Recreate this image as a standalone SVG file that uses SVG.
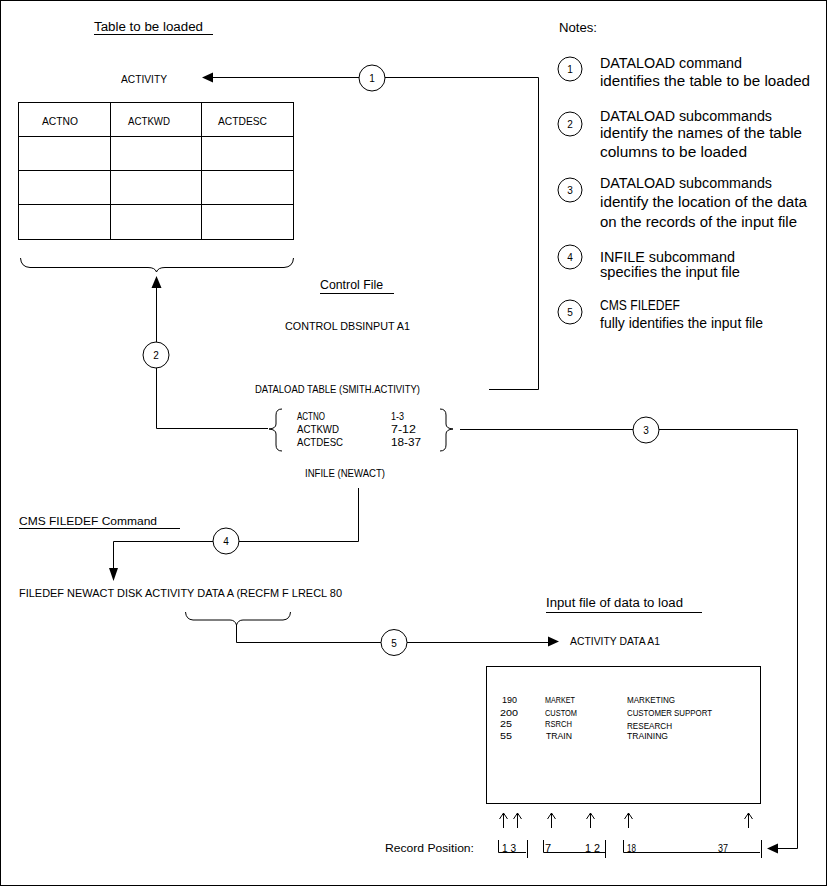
<svg xmlns="http://www.w3.org/2000/svg" width="827" height="886" viewBox="0 0 827 886">
<defs>
<style>
text{font-family:"Liberation Sans",Arial,sans-serif;fill:#000}
.n{font-size:14px}
.m{font-size:11px}
.s{font-size:9.5px}
.c{font-size:10px;text-anchor:middle}
.ln{fill:none;stroke:#000;stroke-width:1}
.cir{fill:#fff;stroke:#000;stroke-width:1}
.ah{fill:#000;stroke:none}
</style>
</defs>
<rect x="0.5" y="0.5" width="826" height="885" fill="#fff" stroke="#000"/>

<g id="connectors">
<!-- 1 -->
<path class="ln" d="M489,389.5 H538.5 V77.5 H213"/>
<polygon class="ah" points="202,77.5 213,72.5 213,82.5"/>
<!-- 2 -->
<path class="ln" d="M268,428.5 H156.5 V287"/>
<polygon class="ah" points="156.5,276 151.5,288 161.5,288"/>
<!-- 3 -->
<path class="ln" d="M460,429.5 H797.5 V848.5 H778"/>
<polygon class="ah" points="767,848.5 778,843.5 778,853.5"/>
<!-- 4 -->
<path class="ln" d="M358.5,488 V541.5 H113.5 V569"/>
<polygon class="ah" points="113.5,581 109,568 118,568"/>
<!-- 5 -->
<path class="ln" d="M236.5,625 V642.5 H548"/>
<polygon class="ah" points="559,641.5 548,636.5 548,646.5"/>
</g>

<g id="title-table">
<text x="94" y="31" font-size="12" textLength="109" lengthAdjust="spacingAndGlyphs">Table to be loaded</text>
<line class="ln" x1="94" y1="34.5" x2="213" y2="34.5"/>
</g>

<g id="table-activity">
<text class="m" x="121" y="83" textLength="46" lengthAdjust="spacingAndGlyphs">ACTIVITY</text>
<rect class="ln" x="18.5" y="102.5" width="275" height="137"/>
<path class="ln" d="M110.5,102.5 V239.5 M201.5,102.5 V239.5 M18.5,136.5 H293.5 M18.5,170.5 H293.5 M18.5,204.5 H293.5"/>
<text class="m" x="42" y="125" textLength="36" lengthAdjust="spacingAndGlyphs">ACTNO</text>
<text class="m" x="128" y="125" textLength="42" lengthAdjust="spacingAndGlyphs">ACTKWD</text>
<text class="m" x="218" y="125" textLength="49" lengthAdjust="spacingAndGlyphs">ACTDESC</text>
<path class="ln" d="M20.5,258 Q21,267 30,267.5 H148 Q155,267.5 156.5,272 Q158,267.5 165,267.5 H284 Q293,267 293.5,258"/>
</g>

<g id="control-file">
<text x="320" y="289" font-size="12" textLength="63" lengthAdjust="spacingAndGlyphs">Control File</text>
<line class="ln" x1="320" y1="293.5" x2="394" y2="293.5"/>
<text class="m" x="285" y="330" textLength="125" lengthAdjust="spacingAndGlyphs">CONTROL DBSINPUT A1</text>
<text class="m" x="255" y="393" textLength="165" lengthAdjust="spacingAndGlyphs">DATALOAD TABLE (SMITH.ACTIVITY)</text>
<path class="ln" d="M282,409 Q276,409 276,415 V424 Q276,428.5 269,429 Q276,429.5 276,434 V445 Q276,451 282,451"/>
<text class="m" x="297" y="420" textLength="28" lengthAdjust="spacingAndGlyphs">ACTNO</text>
<text class="m" x="297" y="433" textLength="42" lengthAdjust="spacingAndGlyphs">ACTKWD</text>
<text class="m" x="297" y="446" textLength="46" lengthAdjust="spacingAndGlyphs">ACTDESC</text>
<text class="m" x="391" y="420" textLength="13" lengthAdjust="spacingAndGlyphs">1-3</text>
<text class="m" x="391" y="433" textLength="25" lengthAdjust="spacingAndGlyphs">7-12</text>
<text class="m" x="391" y="446" textLength="30" lengthAdjust="spacingAndGlyphs">18-37</text>
<path class="ln" d="M440,409 Q446,409 446,415 V424 Q446,428.5 453,429 Q446,429.5 446,434 V445 Q446,451 440,451"/>
<text class="m" x="305" y="477" textLength="80" lengthAdjust="spacingAndGlyphs">INFILE (NEWACT)</text>
</g>

<g id="filedef">
<text class="m" x="19" y="525" textLength="138" lengthAdjust="spacingAndGlyphs">CMS FILEDEF Command</text>
<line class="ln" x1="19" y1="528.5" x2="180" y2="528.5"/>
<text class="m" x="19" y="597" textLength="323" lengthAdjust="spacingAndGlyphs">FILEDEF NEWACT DISK ACTIVITY DATA A (RECFM F LRECL 80</text>
<path class="ln" d="M185.5,612 Q186,619.5 193,620 H230 Q235,620 236.5,625 Q238,620 243,620 H283 Q290,619.5 290.5,612"/>
</g>

<g id="input-file">
<text x="546" y="607" font-size="12" textLength="137" lengthAdjust="spacingAndGlyphs">Input file of data to load</text>
<line class="ln" x1="546" y1="612.5" x2="702" y2="612.5"/>
<text class="m" x="570" y="645" textLength="90" lengthAdjust="spacingAndGlyphs">ACTIVITY DATA A1</text>
<rect class="ln" x="486.5" y="666.5" width="274" height="137"/>
<text class="s" x="502" y="703" textLength="15" lengthAdjust="spacingAndGlyphs">190</text>
<text class="s" x="545" y="703" textLength="30" lengthAdjust="spacingAndGlyphs">MARKET</text>
<text class="s" x="627" y="703" textLength="48" lengthAdjust="spacingAndGlyphs">MARKETING</text>
<text class="s" x="500" y="716" textLength="18" lengthAdjust="spacingAndGlyphs">200</text>
<text class="s" x="545" y="716" textLength="32" lengthAdjust="spacingAndGlyphs">CUSTOM</text>
<text class="s" x="627" y="716" textLength="85" lengthAdjust="spacingAndGlyphs">CUSTOMER SUPPORT</text>
<text class="s" x="500" y="727" textLength="12" lengthAdjust="spacingAndGlyphs">25</text>
<text class="s" x="545" y="727" textLength="27" lengthAdjust="spacingAndGlyphs">RSRCH</text>
<text class="s" x="627" y="729" textLength="45" lengthAdjust="spacingAndGlyphs">RESEARCH</text>
<text class="s" x="500" y="739" textLength="12" lengthAdjust="spacingAndGlyphs">55</text>
<text class="s" x="546" y="739" textLength="26" lengthAdjust="spacingAndGlyphs">TRAIN</text>
<text class="s" x="627" y="739" textLength="41" lengthAdjust="spacingAndGlyphs">TRAINING</text>
</g>

<g id="record-position">
<path class="ln" d="M503.5,828 V813 M499.5,819 L503.5,813 L507.5,819 M517.5,828 V813 M513.5,819 L517.5,813 L521.5,819 M551.5,828 V813 M547.5,819 L551.5,813 L555.5,819 M590.5,828 V813 M586.5,819 L590.5,813 L594.5,819 M628.5,828 V813 M624.5,819 L628.5,813 L632.5,819 M748.5,828 V813 M744.5,819 L748.5,813 L752.5,819"/>
<text class="m" x="385" y="852" textLength="89" lengthAdjust="spacingAndGlyphs">Record Position:</text>
<path class="ln" d="M498.5,840 V852.5 H526 M527.5,840 V858 M543.5,840 V852.5 H605 M605.5,840 V858 M623.5,840 V852.5 H760 M761.5,840 V858"/>
<text class="m" x="502" y="852" textLength="14" lengthAdjust="spacingAndGlyphs">1 3</text>
<text class="m" x="545" y="852">7</text>
<text class="m" x="585" y="852" textLength="15" lengthAdjust="spacingAndGlyphs">1 2</text>
<text class="m" x="627" y="852" textLength="9" lengthAdjust="spacingAndGlyphs">18</text>
<text class="m" x="718" y="852" textLength="10" lengthAdjust="spacingAndGlyphs">37</text>
</g>

<g id="badge-1"><circle class="cir" cx="372" cy="78" r="13"/><text class="c" x="372" y="82">1</text></g>
<g id="badge-2"><circle class="cir" cx="156" cy="355" r="13"/><text class="c" x="156" y="359">2</text></g>
<g id="badge-3"><circle class="cir" cx="646" cy="430" r="13"/><text class="c" x="646" y="434">3</text></g>
<g id="badge-4"><circle class="cir" cx="226" cy="541" r="13"/><text class="c" x="226" y="545">4</text></g>
<g id="badge-5"><circle class="cir" cx="394" cy="642.5" r="13"/><text class="c" x="394" y="646.5">5</text></g>

<g id="notes">
<text x="559" y="32" font-size="12" textLength="38" lengthAdjust="spacingAndGlyphs">Notes:</text>
<g id="note-1"><circle class="cir" cx="570" cy="69" r="12"/><text class="c" x="570" y="73">1</text>
<text class="n" x="600" y="68" textLength="142" lengthAdjust="spacingAndGlyphs">DATALOAD command</text>
<text class="n" x="600" y="86" textLength="210" lengthAdjust="spacingAndGlyphs">identifies the table to be loaded</text></g>
<g id="note-2"><circle class="cir" cx="570" cy="124" r="12"/><text class="c" x="570" y="128">2</text>
<text class="n" x="600" y="121" textLength="172" lengthAdjust="spacingAndGlyphs">DATALOAD subcommands</text>
<text class="n" x="600" y="138" textLength="202" lengthAdjust="spacingAndGlyphs">identify the names of the table</text>
<text class="n" x="600" y="157" textLength="147" lengthAdjust="spacingAndGlyphs">columns to be loaded</text></g>
<g id="note-3"><circle class="cir" cx="570" cy="190" r="12"/><text class="c" x="570" y="194">3</text>
<text class="n" x="600" y="188" textLength="172" lengthAdjust="spacingAndGlyphs">DATALOAD subcommands</text>
<text class="n" x="600" y="207" textLength="207" lengthAdjust="spacingAndGlyphs">identify the location of the data</text>
<text class="n" x="600" y="227" textLength="197" lengthAdjust="spacingAndGlyphs">on the records of the input file</text></g>
<g id="note-4"><circle class="cir" cx="570" cy="257" r="12"/><text class="c" x="570" y="261">4</text>
<text class="n" x="600" y="262" textLength="135" lengthAdjust="spacingAndGlyphs">INFILE subcommand</text>
<text class="n" x="600" y="277" textLength="140" lengthAdjust="spacingAndGlyphs">specifies the input file</text></g>
<g id="note-5"><circle class="cir" cx="570" cy="312" r="12"/><text class="c" x="570" y="316">5</text>
<text class="n" x="600" y="310" textLength="80" lengthAdjust="spacingAndGlyphs">CMS FILEDEF</text>
<text class="n" x="600" y="328" textLength="163" lengthAdjust="spacingAndGlyphs">fully identifies the input file</text></g>
</g>
</svg>
